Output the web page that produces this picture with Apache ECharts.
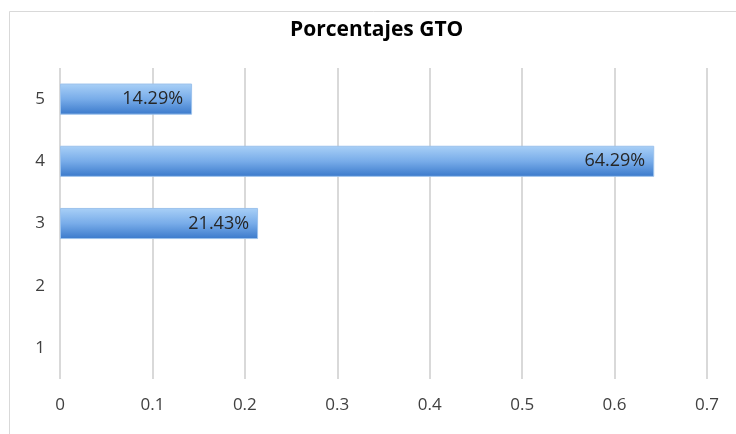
<!DOCTYPE html>
<html>
<head>
<meta charset="utf-8">
<script src="https://cdn.jsdelivr.net/npm/echarts@6/dist/echarts.min.js"></script>
<style>
  html, body { margin: 0; padding: 0; background: #fff; }
  #chart { width: 736px; height: 434px; }
</style>
</head>
<body>
<div id="chart"></div>
<script>
// Category labels (bottom to top) and the share recorded for each
const categories = ['1', '2', '3', '4', '5'];
const shares = [null, null, 0.2143, 0.6429, 0.1429];
const valueTicks = [0, 0.1, 0.2, 0.3, 0.4, 0.5, 0.6, 0.7];
const chartTitle = 'Porcentajes GTO';

const chart = echarts.init(document.getElementById('chart'));
chart.setOption({
  backgroundColor: '#ffffff',
  animation: false,
  graphic: [{
    type: 'rect',
    shape: { x: 9.5, y: 11.5, width: 740, height: 440 },
    style: { fill: 'none', stroke: '#d9d9d9', lineWidth: 1 },
    silent: true
  }],
  title: {
    text: chartTitle,
    left: 290,
    top: 20,
    padding: 0,
    textStyle: { fontFamily: 'Open Sans', fontWeight: 'bold', fontSize: 21, color: '#000' }
  },
  grid: { left: 60, right: 29, top: 68, bottom: 55, containLabel: false },
  xAxis: {
    type: 'value',
    min: valueTicks[0],
    max: valueTicks[valueTicks.length - 1],
    interval: 0.1,
    axisLine: { show: false },
    axisTick: { show: false },
    axisLabel: {
      margin: 18,
      fontFamily: 'Open Sans',
      fontSize: 17,
      color: '#404040',
      formatter: v => String(Math.round(v * 10) / 10)
    },
    splitLine: { show: true, lineStyle: { color: '#d9d9d9', width: 2 } }
  },
  yAxis: {
    type: 'category',
    data: categories,
    axisLine: { show: false },
    axisTick: { show: false },
    axisLabel: { margin: 15, fontFamily: 'Open Sans', fontSize: 17, color: '#404040' }
  },
  series: [{
    type: 'bar',
    data: shares,
    barWidth: '50%',
    itemStyle: {
      color: new echarts.graphic.LinearGradient(0, 0, 0, 1, [
        { offset: 0, color: '#a9d0f7' },
        { offset: 0.5, color: '#78ace9' },
        { offset: 1, color: '#3a79cb' }
      ]),
      borderColor: '#9cc2ec',
      borderWidth: 1
    },
    label: {
      show: true,
      position: 'insideRight',
      distance: 9,
      fontFamily: 'Open Sans',
      fontSize: 18,
      color: '#262626',
      formatter: p => (p.value * 100).toFixed(2) + '%'
    }
  }]
});
</script>
</body>
</html>
